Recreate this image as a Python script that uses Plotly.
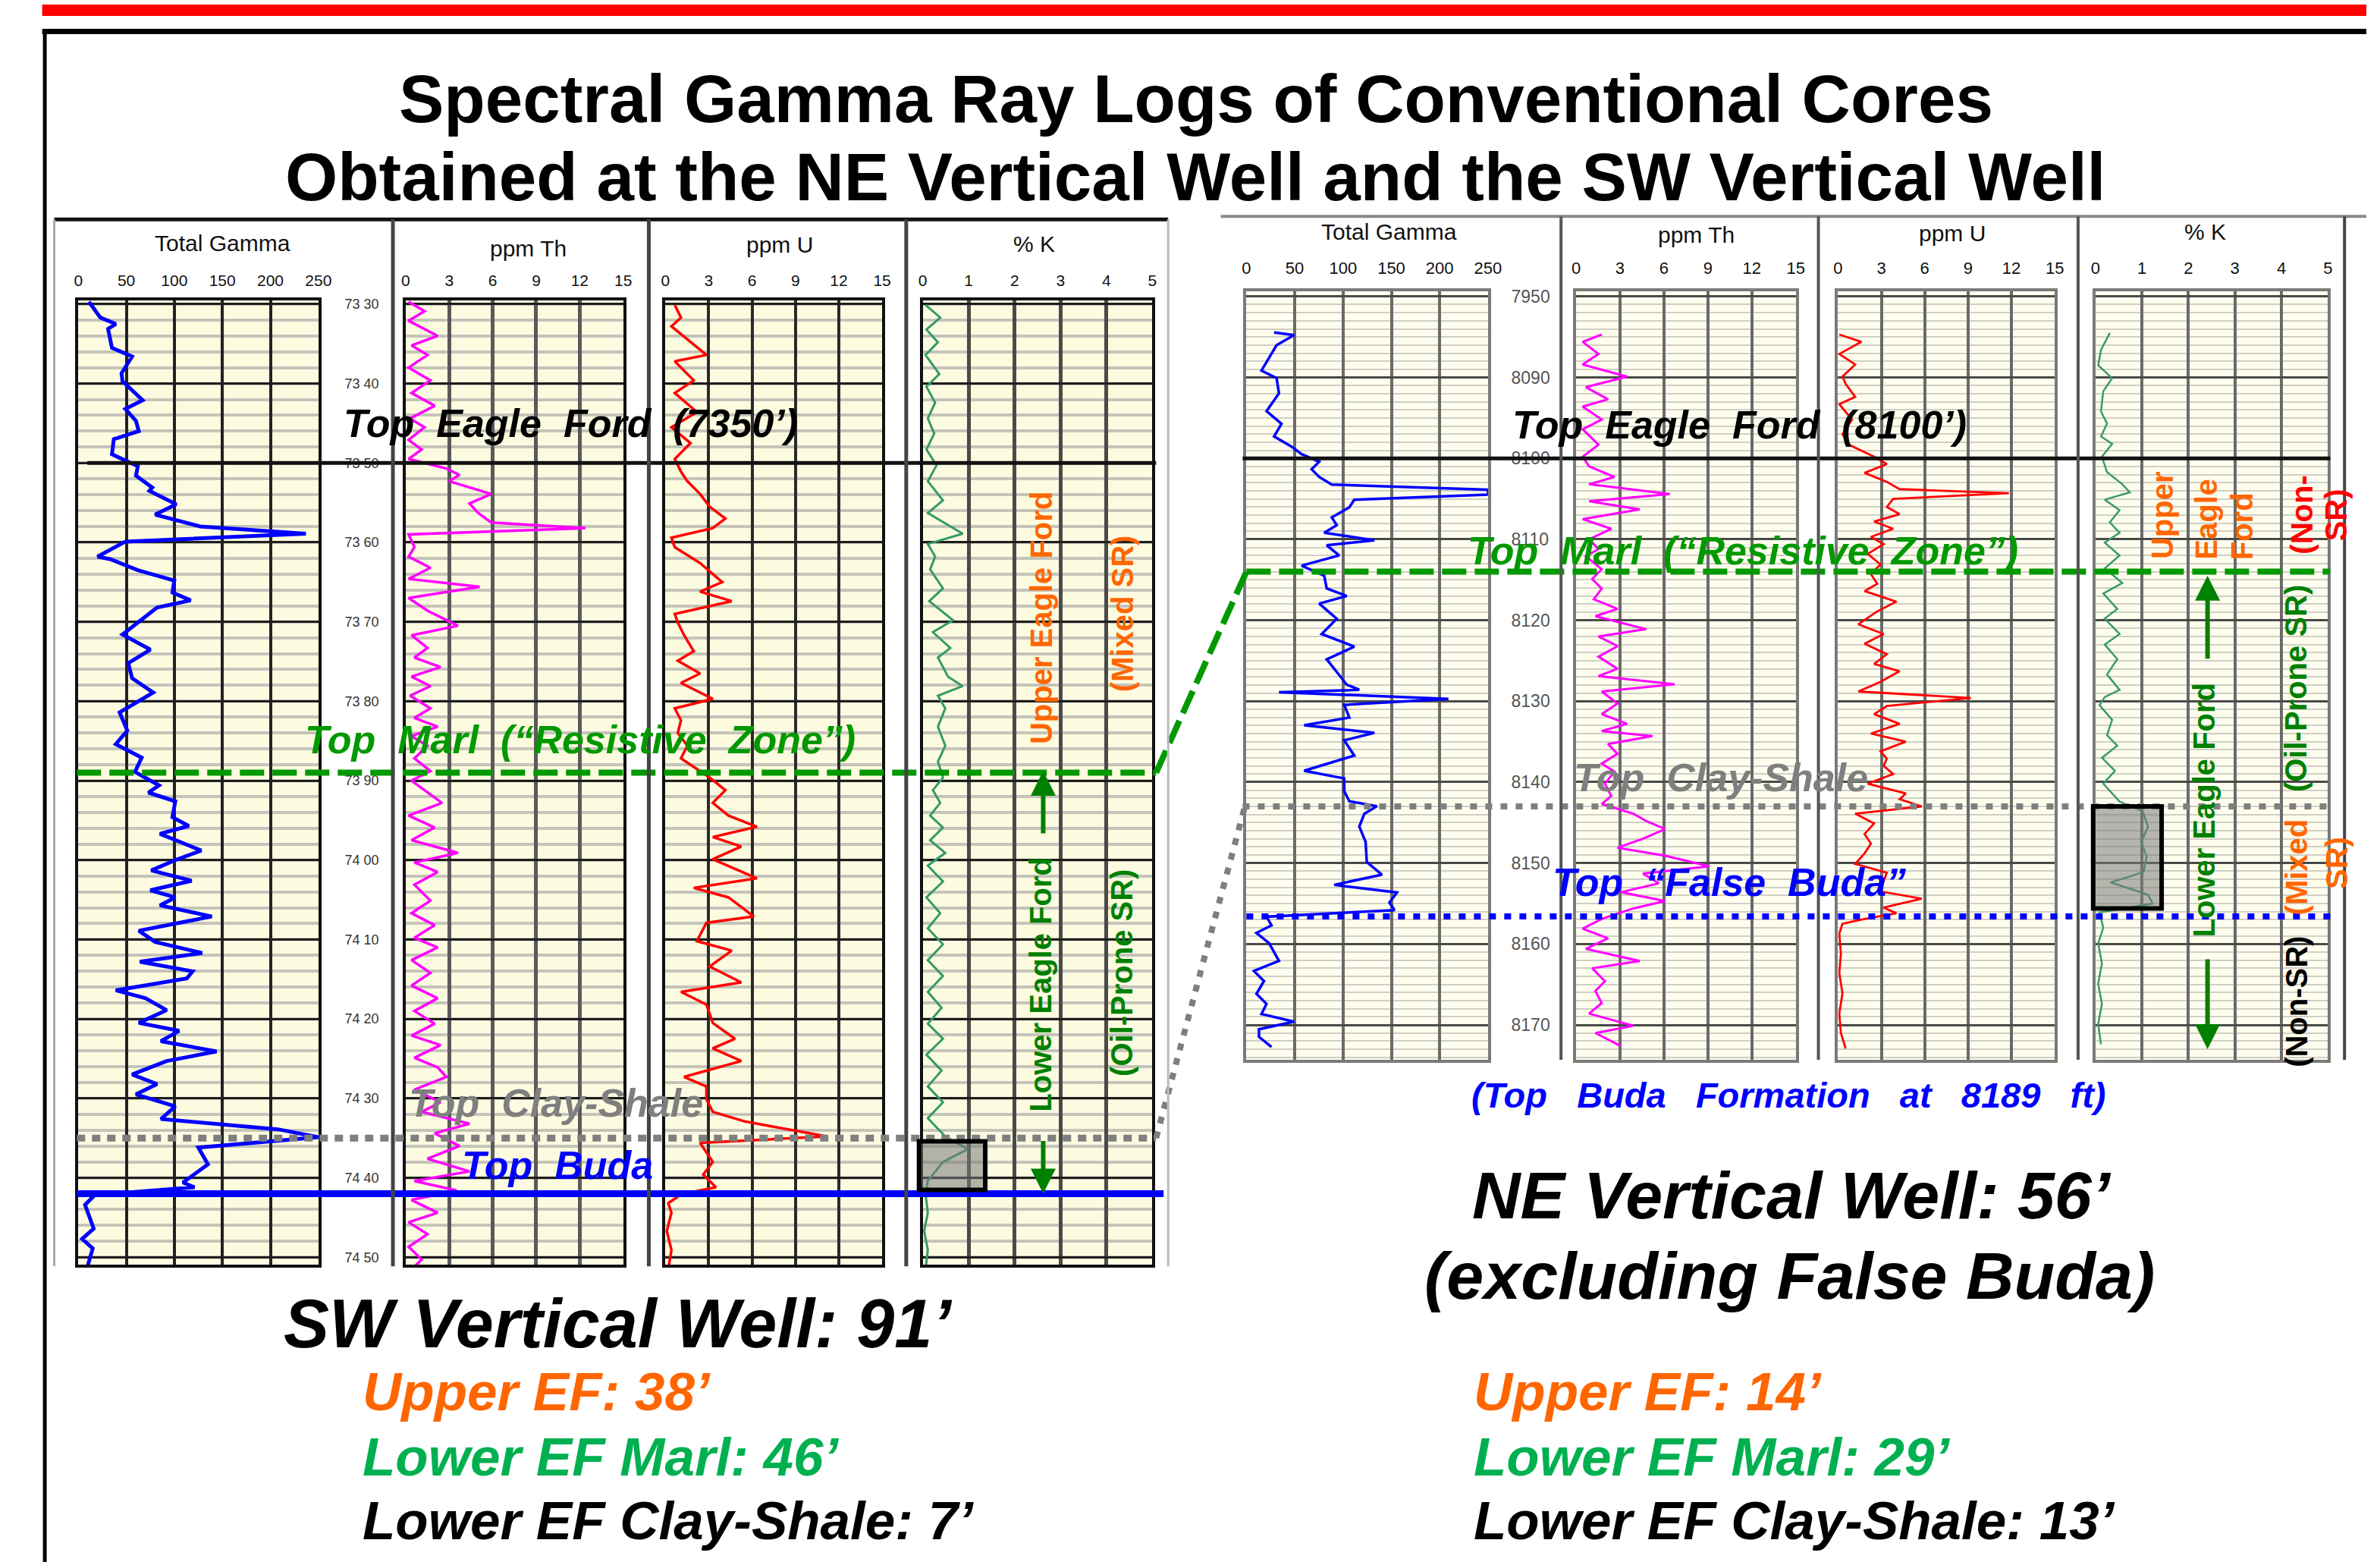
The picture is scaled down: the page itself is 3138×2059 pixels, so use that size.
import plotly.graph_objects as go

W, H = 3138, 2059
FONT = "Liberation Sans, Arial, Helvetica, sans-serif"
NB = "\u00a0"

# ---------------------------------------------------------------- data
TG_TICKS = [0, 50, 100, 150, 200, 250]
PPM_TICKS = [0, 3, 6, 9, 12, 15]
K_TICKS = [0, 1, 2, 3, 4, 5]

SW_DEPTH_TICKS = [7330, 7340, 7350, 7360, 7370, 7380, 7390, 7400, 7410, 7420, 7430, 7440, 7450]
SW_DEPTH_LABELS = ["73 30", "73 40", "73 50", "73 60", "73 70", "73 80", "73 90",
                   "74 00", "74 10", "74 20", "74 30", "74 40", "74 50"]
NE_DEPTH_TICKS = [8080, 8090, 8100, 8110, 8120, 8130, 8140, 8150, 8160, 8170]
NE_DEPTH_LABELS = ["7950", "8090", "8100", "8110", "8120", "8130", "8140", "8150", "8160", "8170"]

# formation tops (ft): Eagle Ford, Marl, Clay-Shale, Buda / False Buda
SW_TOPS = [7350, 7389, 7435, 7442]
NE_TOPS = [8100, 8114, 8143, 8156.6]

SW_TG_DEPTH = [7329.7, 7331.7, 7332.5, 7333.1, 7335.5, 7336.6, 7338.7, 7339.7, 7342.1, 7343.2,
               7344.7, 7346.0, 7347.0, 7348.9, 7349.7, 7350.4, 7351.6, 7353.1, 7353.5, 7355.2,
               7356.5, 7358.0, 7358.9, 7359.9, 7361.8, 7362.1, 7363.5, 7364.8, 7366.3, 7367.3,
               7368.2, 7369.9, 7371.6, 7373.5, 7375.2, 7377.1, 7378.9, 7381.4, 7383.7, 7385.4,
               7387.1, 7388.9, 7390.6, 7391.5, 7392.6, 7394.6, 7395.7, 7396.7, 7398.8, 7400.0,
               7401.3, 7402.6, 7403.8, 7404.7, 7405.7, 7407.1, 7408.9, 7410.3, 7411.7, 7412.8,
               7414.0, 7414.9, 7416.4, 7417.4, 7418.9, 7420.5, 7421.5, 7422.8, 7424.1, 7425.3,
               7427.0, 7428.2, 7429.5, 7431.0, 7432.6, 7433.9, 7434.9, 7436.2, 7438.3, 7440.6,
               7441.2, 7442.2, 7443.4, 7446.4, 7447.7, 7448.9, 7451.0]
SW_TG = [11, 23, 39, 31, 35, 56, 45, 46, 67, 49,
         60, 63, 37, 35, 49, 62, 60, 77, 74, 102,
         80, 127, 237, 49, 20, 33, 62, 100, 98, 117,
         82, 64, 46, 75, 52, 56, 78, 43, 51, 39,
         66, 59, 84, 73, 101, 98, 115, 85, 128, 101,
         76, 118, 75, 101, 85, 139, 63, 80, 129, 64,
         119, 113, 39, 70, 92, 63, 105, 86, 144, 92,
         56, 82, 60, 101, 86, 208, 250, 125, 135, 109,
         121, 17, 7, 16, 4, 15, 10]

SW_TH_DEPTH = [7329.7, 7330.9, 7332.1, 7334.0, 7335.2, 7336.4, 7338.0, 7339.6, 7341.2, 7342.8,
               7344.4, 7345.5, 7347.1, 7348.3, 7349.5, 7350.7, 7351.5, 7352.3, 7353.9, 7355.1,
               7356.3, 7357.5, 7358.2, 7359.0, 7360.6, 7361.8, 7363.2, 7364.6, 7365.6, 7367.0,
               7368.6, 7370.5, 7371.7, 7373.3, 7374.5, 7375.7, 7376.9, 7378.1, 7379.3, 7380.9,
               7382.1, 7383.2, 7384.4, 7385.6, 7387.2, 7388.8, 7390.0, 7391.2, 7392.8, 7394.4,
               7395.9, 7397.5, 7399.1, 7400.3, 7401.5, 7403.1, 7405.1, 7406.7, 7408.2, 7409.8,
               7411.0, 7412.6, 7414.2, 7415.8, 7417.4, 7419.0, 7420.6, 7422.1, 7423.3, 7424.9,
               7426.1, 7427.3, 7428.9, 7430.5, 7431.7, 7433.2, 7434.4, 7436.0, 7437.6, 7439.2,
               7440.4, 7441.6, 7442.8, 7444.4, 7445.6, 7447.1, 7448.7, 7450.3, 7451.9]
SW_TH = [0.2, 1.3, 0.2, 2.2, 0.4, 1.5, 0.2, 1.7, 0.4, 2.0,
         0.3, 1.3, 0.2, 1.1, 0.2, 2.8, 3.7, 3.0, 5.9, 4.4,
         5.0, 5.9, 12.4, 0.2, 0.6, 0.2, 1.7, 0.2, 5.1, 0.2,
         1.5, 3.6, 0.4, 1.5, 0.6, 2.4, 0.4, 1.7, 0.3, 1.7,
         0.6, 2.2, 0.4, 1.5, 0.6, 1.7, 0.4, 1.3, 2.5, 0.2,
         2.0, 0.4, 3.6, 0.6, 2.2, 0.6, 1.7, 0.4, 2.0, 0.6,
         2.2, 0.4, 1.7, 0.4, 2.2, 0.6, 2.0, 0.4, 2.4, 0.6,
         2.2, 2.8, 0.6, 2.4, 1.1, 4.4, 2.0, 3.7, 1.5, 4.4,
         0.6, 3.5, 0.4, 2.2, 0.2, 1.5, 0.2, 1.1, 0.2]

SW_U_DEPTH = [7330.1, 7331.7, 7332.8, 7334.8, 7336.4, 7337.2, 7339.6, 7341.2, 7343.6, 7345.5,
              7347.5, 7349.5, 7351.1, 7352.3, 7353.9, 7355.5, 7357.0, 7358.2, 7359.4, 7360.6,
              7362.6, 7365.0, 7366.2, 7367.4, 7369.0, 7370.1, 7371.7, 7373.7, 7374.9, 7376.5,
              7377.7, 7379.7, 7380.9, 7382.4, 7384.0, 7385.6, 7387.2, 7388.8, 7389.6, 7391.2,
              7392.8, 7394.4, 7395.8, 7397.1, 7398.3, 7399.9, 7402.3, 7403.5, 7404.7, 7407.1,
              7407.9, 7410.2, 7411.4, 7413.4, 7415.4, 7416.6, 7418.2, 7420.5, 7422.5, 7423.7,
              7425.3, 7427.3, 7428.5, 7430.1, 7431.7, 7432.9, 7434.0, 7434.8, 7435.6, 7438.0,
              7439.6, 7441.2, 7442.1, 7443.2, 7444.4, 7446.7, 7449.1, 7451.5]
SW_U = [0.65, 1.08, 0.42, 1.74, 2.84, 0.65, 1.96, 0.65, 2.18, 0.42,
        1.74, 0.65, 1.08, 1.52, 2.40, 3.06, 4.15, 3.28, 0.42, 0.65,
        2.40, 3.93, 2.40, 4.59, 0.65, 0.86, 1.30, 1.96, 0.86, 2.40,
        1.08, 3.28, 0.65, 1.08, 0.86, 1.52, 1.08, 2.40, 3.06, 4.15,
        3.28, 4.37, 6.34, 3.28, 5.25, 3.28, 6.34, 1.96, 4.37, 6.12,
        2.84, 2.18, 4.59, 3.06, 5.25, 1.08, 2.84, 3.28, 4.81, 3.28,
        5.25, 1.30, 2.84, 2.84, 3.28, 5.47, 8.75, 11.17, 2.40, 3.28,
        2.62, 3.50, 1.08, 0.20, 0.42, 0.10, 0.42, 0.20]

SW_K_DEPTH = [7330.1, 7331.7, 7333.2, 7334.8, 7336.4, 7338.8, 7340.4, 7342.4, 7344.4, 7346.3,
              7348.3, 7350.3, 7352.3, 7354.7, 7356.3, 7358.9, 7360.2, 7361.8, 7363.4, 7365.8,
              7367.4, 7369.8, 7371.3, 7373.3, 7374.5, 7376.9, 7378.1, 7379.3, 7380.9, 7383.2,
              7385.6, 7387.6, 7389.6, 7391.2, 7392.8, 7394.4, 7395.9, 7397.5, 7399.1, 7400.7,
              7402.7, 7404.7, 7406.7, 7408.6, 7410.6, 7412.6, 7414.6, 7416.6, 7418.6, 7420.6,
              7422.5, 7424.5, 7426.5, 7428.5, 7430.5, 7432.5, 7434.8, 7436.4, 7438.0, 7440.4,
              7442.0, 7444.4, 7446.7, 7449.1, 7451.5]
SW_K = [0.06, 0.38, 0.08, 0.33, 0.06, 0.36, 0.08, 0.27, 0.11, 0.25,
        0.08, 0.30, 0.11, 0.44, 0.11, 0.87, 0.11, 0.27, 0.16, 0.44,
        0.14, 0.66, 0.22, 0.60, 0.33, 0.55, 0.87, 0.33, 0.49, 0.33,
        0.49, 0.33, 0.44, 0.22, 0.38, 0.16, 0.44, 0.16, 0.49, 0.11,
        0.44, 0.08, 0.38, 0.11, 0.44, 0.11, 0.44, 0.11, 0.41, 0.11,
        0.44, 0.08, 0.41, 0.11, 0.44, 0.11, 0.49, 0.98, 0.44, 0.11,
        0.06, 0.11, 0.03, 0.11, 0.06]

NE_TG_DEPTH = [8084.45, 8084.77, 8086.02, 8089.15, 8090.09, 8091.96, 8094.16, 8095.72, 8097.29, 8098.54,
               8099.48, 8100.42, 8101.35, 8102.29, 8103.23, 8103.86, 8104.48, 8105.11, 8106.05, 8107.30,
               8108.24, 8109.18, 8110.12, 8110.74, 8111.99, 8113.25, 8114.50, 8116.07, 8117.00, 8117.94,
               8119.82, 8121.70, 8123.26, 8124.83, 8126.39, 8127.96, 8128.59, 8128.90, 8129.71, 8130.46,
               8132.03, 8132.97, 8133.91, 8134.84, 8136.72, 8138.60, 8139.54, 8141.11, 8142.36, 8142.98,
               8143.92, 8145.49, 8147.37, 8149.87, 8151.44, 8152.69, 8153.63, 8154.88, 8155.82, 8156.63,
               8157.69, 8158.63, 8159.89, 8162.08, 8163.33, 8164.58, 8166.15, 8167.40, 8168.65, 8169.59,
               8170.53, 8171.47, 8172.72]
NE_TG = [28.6, 49.3, 31.2, 15.6, 31.2, 33.7, 20.8, 36.3, 28.6, 46.7,
         57.1, 75.3, 67.5, 75.3, 88.3, 250, 250, 111.6, 106.5, 88.3,
         93.5, 80.5, 132.4, 83.1, 96.0, 57.1, 80.5, 83.1, 103.8, 75.3,
         93.5, 77.9, 111.6, 83.1, 93.5, 103.8, 116.8, 33.7, 209, 101.2,
         106.5, 59.7, 132.4, 101.2, 111.6, 59.7, 101.2, 101.2, 106.5, 135.0,
         122.0, 116.8, 123.3, 124.6, 140.2, 90.9, 155.8, 148.0, 153.2, 20.8,
         26.0, 10.4, 23.4, 33.7, 7.8, 18.2, 10.4, 20.8, 15.6, 49.3,
         13.0, 13.0, 26.0]

NE_TH_DEPTH = [8084.7, 8085.6, 8087.1, 8088.4, 8089.9, 8091.2, 8092.7, 8093.6, 8095.2, 8096.4,
               8098.3, 8099.8, 8101.0, 8102.3, 8103.2, 8104.4, 8105.3, 8106.3, 8107.5, 8108.7,
               8110.0, 8111.2, 8112.1, 8113.7, 8114.9, 8116.1, 8117.4, 8118.6, 8119.5, 8121.1,
               8122.0, 8123.2, 8124.5, 8126.0, 8126.9, 8127.9, 8128.8, 8130.3, 8131.6, 8132.8,
               8133.7, 8134.3, 8135.3, 8136.5, 8137.7, 8138.7, 8140.2, 8141.7, 8142.7, 8143.9,
               8144.8, 8145.8, 8147.0, 8148.1, 8149.1, 8150.4, 8151.3, 8152.5, 8153.6, 8154.7,
               8155.6, 8156.9, 8158.1, 8159.3, 8160.6, 8162.1, 8163.0, 8164.6, 8165.8, 8167.3,
               8168.6, 8170.1, 8171.0, 8172.6]
NE_TH = [1.75, 0.45, 1.53, 0.45, 3.48, 0.67, 2.18, 0.45, 1.75, 0.45,
         1.53, 0.45, 0.89, 2.62, 0.89, 6.40, 0.89, 4.35, 0.45, 2.40,
         0.89, 1.53, 0.67, 1.75, 1.10, 1.75, 1.21, 2.83, 1.32, 4.78,
         1.53, 2.83, 1.53, 2.83, 1.53, 6.72, 1.75, 2.83, 1.75, 3.48,
         1.75, 5.21, 2.18, 2.83, 1.75, 2.62, 1.97, 2.40, 1.75, 3.91,
         4.78, 6.08, 4.56, 2.83, 6.08, 9.10, 4.56, 5.64, 3.05, 6.08,
         3.91, 1.75, 0.45, 2.18, 0.67, 4.35, 1.10, 1.97, 1.32, 1.75,
         0.89, 3.91, 1.32, 3.05]

NE_U_DEPTH = [8084.7, 8085.6, 8087.1, 8088.4, 8089.9, 8090.8, 8092.4, 8093.3, 8095.2, 8097.0,
              8098.3, 8099.8, 8100.7, 8101.8, 8102.9, 8103.8, 8104.3, 8105.0, 8106.0, 8106.9,
              8107.8, 8108.7, 8109.7, 8110.6, 8111.8, 8113.1, 8114.3, 8115.5, 8116.4, 8117.7,
              8118.9, 8120.5, 8121.7, 8122.9, 8124.2, 8125.4, 8126.3, 8127.6, 8128.8, 8129.6,
              8130.6, 8131.6, 8132.8, 8134.0, 8135.0, 8136.2, 8137.1, 8138.0, 8139.0, 8140.2,
              8141.4, 8142.1, 8143.0, 8143.9, 8145.1, 8146.4, 8147.6, 8148.8, 8150.1, 8151.2,
              8152.2, 8153.5, 8154.4, 8155.5, 8156.2, 8156.9, 8157.5, 8158.7, 8161.2, 8163.6,
              8166.1, 8168.6, 8171.0, 8172.9]
NE_U = [0.09, 1.62, 0.09, 1.19, 0.31, 0.53, 1.19, 0.09, 0.97, 0.31,
        0.75, 2.50, 3.38, 1.84, 3.38, 4.26, 11.82, 3.82, 3.38, 4.26,
        2.50, 3.82, 2.28, 3.16, 2.06, 2.94, 2.28, 2.72, 1.84, 4.04,
        2.72, 1.41, 3.16, 1.84, 3.38, 2.50, 4.26, 2.94, 1.41, 9.19,
        3.38, 2.50, 4.26, 2.28, 4.69, 2.94, 3.38, 3.16, 3.82, 2.06,
        4.69, 4.26, 5.79, 1.19, 2.50, 1.84, 2.28, 1.84, 1.19, 3.38,
        3.16, 2.94, 5.79, 3.16, 4.04, 1.84, 0.31, 0.09, 0.20, 0.09,
        0.31, 0.09, 0.20, 0.53]

NE_K_DEPTH = [8084.5, 8086.6, 8088.5, 8090.1, 8091.7, 8094.2, 8095.7, 8097.3, 8098.2, 8099.8,
              8101.7, 8103.2, 8104.2, 8105.1, 8106.4, 8107.9, 8109.2, 8110.4, 8112.0, 8113.6,
              8115.4, 8116.7, 8118.6, 8119.8, 8121.7, 8123.0, 8124.8, 8126.7, 8128.6, 8129.5,
              8130.5, 8132.3, 8134.2, 8135.5, 8137.0, 8138.6, 8140.2, 8141.4, 8142.4, 8143.6,
              8145.5, 8147.4, 8149.2, 8151.1, 8152.4, 8153.9, 8155.0, 8156.1, 8158.0, 8159.9,
              8162.4, 8164.9, 8167.4, 8169.9, 8172.4]
NE_K = [0.31, 0.12, 0.06, 0.36, 0.17, 0.12, 0.25, 0.12, 0.36, 0.14,
        0.25, 0.58, 0.74, 0.20, 0.52, 0.31, 0.52, 0.20, 0.52, 0.20,
        0.58, 0.17, 0.47, 0.20, 0.52, 0.20, 0.47, 0.25, 0.52, 0.20,
        0.09, 0.36, 0.25, 0.47, 0.14, 0.42, 0.17, 0.36, 0.52, 1.02,
        1.13, 0.99, 1.10, 1.04, 0.33, 1.13, 1.23, 0.09, 0.17, 0.06,
        0.14, 0.06, 0.14, 0.06, 0.12]

# ---------------------------------------------------------------- geometry helpers
def X(p):
    return p / W


def Y(p):
    return 1 - p / H


SW_Y = (391, 1666)
SW_RANGE = [7450.95, 7329.52]
NE_Y = (379, 1395)
NE_RANGE = [8174.3, 8079.35]


def depth_y(depth, well):
    (yt, yb), rng = (SW_Y, SW_RANGE) if well == "SW" else (NE_Y, NE_RANGE)
    top, bot = rng[1], rng[0]
    return Y(yt + (depth - top) / (bot - top) * (yb - yt))


SW_STYLE = dict(bg="#FCFBE0", major="#1e1e1e", majw=3, minor="#C4C4BA", minw=4, border="#111111", bw=4)
NE_STYLE = dict(bg="#FFFEEE", major="#4a4a4a", majw=2.5, minor="#CFCFC6", minw=2, border="#7a7a7a", bw=4)

tracks = [
    dict(n=1, well="SW", x=(98, 417), rng=[0, 250], ticks=TG_TICKS, d=SW_TG_DEPTH, v=SW_TG,
         color="#0000FF", lw=5, vgrid="#222222", vgw=4, head="Total Gamma", hx=290, hy=315),
    dict(n=2, well="SW", x=(533, 822), rng=[0, 15], ticks=PPM_TICKS, d=SW_TH_DEPTH, v=SW_TH,
         color="#FF00FF", lw=3.5, vgrid="#5a5a5a", vgw=5, head="ppm Th", hx=696, hy=322),
    dict(n=3, well="SW", x=(878, 1166), rng=[0, 15], ticks=PPM_TICKS, d=SW_U_DEPTH, v=SW_U,
         color="#FF0000", lw=3.5, vgrid="#2a2a2a", vgw=4, head="ppm U", hx=1030, hy=317),
    dict(n=4, well="SW", x=(1220, 1525), rng=[0, 5], ticks=K_TICKS, d=SW_K_DEPTH, v=SW_K,
         color="#35996A", lw=3, vgrid="#4a4a4a", vgw=5, head="% K", hx=1368, hy=316),
    dict(n=5, well="NE", x=(1650, 1971), rng=[0, 250], ticks=TG_TICKS, d=NE_TG_DEPTH, v=NE_TG,
         color="#0000FF", lw=3.5, vgrid="#6a6a6a", vgw=4, head="Total Gamma", hx=1840, hy=300),
    dict(n=6, well="NE", x=(2088, 2380), rng=[0, 15], ticks=PPM_TICKS, d=NE_TH_DEPTH, v=NE_TH,
         color="#FF00FF", lw=3, vgrid="#6a6a6a", vgw=4, head="ppm Th", hx=2248, hy=304),
    dict(n=7, well="NE", x=(2436, 2724), rng=[0, 15], ticks=PPM_TICKS, d=NE_U_DEPTH, v=NE_U,
         color="#FF0000", lw=2.8, vgrid="#6a6a6a", vgw=4, head="ppm U", hx=2588, hy=302),
    dict(n=8, well="NE", x=(2778, 3087), rng=[0, 5], ticks=K_TICKS, d=NE_K_DEPTH, v=NE_K,
         color="#3A9A6A", lw=2.5, vgrid="#6a6a6a", vgw=4, head="% K", hx=2924, hy=300),
]

fig = go.Figure()
layout = {}
shapes = []
annotations = []

for t in tracks:
    n = t["n"]
    sw = t["well"] == "SW"
    st = SW_STYLE if sw else NE_STYLE
    (yt, yb) = SW_Y if sw else NE_Y
    fig.add_trace(go.Scatter(x=t["v"], y=t["d"], mode="lines",
                             line=dict(color=t["color"], width=t["lw"]),
                             xaxis="x%d" % n, yaxis="y%d" % n,
                             showlegend=False, hoverinfo="skip"))
    layout["xaxis%d" % n] = dict(
        domain=[X(t["x"][0]), X(t["x"][1])], range=t["rng"], anchor="y%d" % n,
        side="top", tickmode="array", tickvals=t["ticks"],
        ticks="outside", ticklen=6 if sw else 10, tickcolor="rgba(0,0,0,0)",
        tickfont=dict(family=FONT, size=21 if sw else 22, color="#111"),
        showgrid=True, gridcolor=t["vgrid"], gridwidth=t["vgw"],
        showline=True, linecolor=st["border"], linewidth=st["bw"], mirror=True,
        zeroline=False, fixedrange=True)
    is_tg = n in (1, 5)
    ya = dict(
        domain=[Y(yb), Y(yt)], range=SW_RANGE if sw else NE_RANGE, anchor="x%d" % n,
        tickmode="array",
        tickvals=SW_DEPTH_TICKS if sw else NE_DEPTH_TICKS,
        ticktext=SW_DEPTH_LABELS if sw else NE_DEPTH_LABELS,
        showticklabels=is_tg, side="right",
        ticks="outside" if is_tg else "", ticklen=27 if sw else 22,
        tickcolor="rgba(0,0,0,0)",
        tickfont=dict(family=FONT, size=18 if sw else 23, color="#333" if sw else "#555"),
        showgrid=True, gridcolor=st["major"], gridwidth=st["majw"],
        minor=dict(tick0=SW_DEPTH_TICKS[0] if sw else NE_DEPTH_TICKS[0],
                   dtick=2 if sw else 1, showgrid=True,
                   gridcolor=st["minor"], gridwidth=st["minw"]),
        showline=True, linecolor=st["border"], linewidth=st["bw"], mirror=True,
        zeroline=False, fixedrange=True)
    layout["yaxis%d" % n] = ya
    # track background
    shapes.append(dict(type="rect", xref="paper", yref="paper",
                       x0=X(t["x"][0]), x1=X(t["x"][1]), y0=Y(yb), y1=Y(yt),
                       fillcolor=st["bg"], line=dict(width=0), layer="below"))
    annotations.append(dict(text=t["head"], x=X(t["hx"]), y=Y(t["hy"]), xref="paper", yref="paper",
                            showarrow=False, xanchor="center", yanchor="middle",
                            font=dict(family=FONT, size=30, color="#111")))


def hline(x0, x1, yref, depth, color, width, dash="solid"):
    shapes.append(dict(type="line", xref="paper", yref=yref, x0=X(x0), x1=X(x1),
                       y0=depth, y1=depth, line=dict(color=color, width=width, dash=dash),
                       layer="above"))


def pline(x0, y0, x1, y1, color, width, dash="solid"):
    shapes.append(dict(type="line", xref="paper", yref="paper", x0=X(x0), x1=X(x1),
                       y0=y0, y1=y1, line=dict(color=color, width=width, dash=dash),
                       layer="above"))


def prect(x0, y0, x1, y1, fill, lc=None, lw=0, layer="above"):
    shapes.append(dict(type="rect", xref="paper", yref="paper", x0=X(x0), x1=X(x1),
                       y0=Y(y1), y1=Y(y0), fillcolor=fill,
                       line=dict(color=lc or fill, width=lw), layer=layer))


GREEN = "#009900"
GRAY = "#7f7f7f"
BLUE = "#0000FF"
ORANGE = "#FF6600"
DKGREEN = "#008000"

# formation top lines - SW
hline(110, 1530, "y1", SW_TOPS[0], "#111111", 5)
hline(96, 1530, "y1", SW_TOPS[1], GREEN, 8, "32px,11px")
hline(96, 1530, "y1", SW_TOPS[2], GRAY, 9, "11px,9px")
hline(96, 1540, "y1", SW_TOPS[3], BLUE, 9)
# formation top lines - NE
hline(1645, 3090, "y5", NE_TOPS[0], "#111111", 5)
hline(1650, 3090, "y5", NE_TOPS[1], GREEN, 8, "32px,11px")
hline(1645, 3090, "y5", NE_TOPS[2], GRAY, 8, "9px,11px")
hline(1650, 3090, "y5", NE_TOPS[3], BLUE, 8, "9px,11px")
# connectors between the two wells
shapes.append(dict(type="line", xref="paper", yref="paper", x0=X(1530), x1=X(1650),
                   y0=depth_y(SW_TOPS[1], "SW"), y1=depth_y(NE_TOPS[1], "NE"),
                   line=dict(color=GREEN, width=8, dash="32px,11px"), layer="above"))
shapes.append(dict(type="line", xref="paper", yref="paper", x0=X(1530), x1=X(1648),
                   y0=depth_y(SW_TOPS[2], "SW"), y1=depth_y(NE_TOPS[2], "NE"),
                   line=dict(color=GRAY, width=8, dash="9px,11px"), layer="above"))

# core boxes (grey)
prect(1215, 1503, 1303, 1567, "rgba(120,120,120,0.55)", "#000", 6)
prect(2775, 1060, 2866, 1195, "rgba(120,120,120,0.55)", "#000", 6)

# outer frame
prect(50, 0, 3138, 15, "#FF0000", layer="above")
prect(50, 32, 3138, 39, "#000000", layer="above")
prect(51, 36, 56, 2059, "#000000", layer="above")

# panel frames
pline(66, Y(284), 1546, Y(284), "#111111", 5)
pline(66, Y(284), 66, Y(1668), "#AAAAAA", 3)
pline(1546, Y(284), 1546, Y(1668), "#BBBBBB", 3)
for sx in (516, 856, 1198):
    pline(sx, Y(284), sx, Y(1668), "#444444", 5)
pline(1616, Y(280), 3138, Y(280), "#8a8a8a", 4)
for sx in (2068, 2410, 2755):
    pline(sx, Y(280), sx, Y(1395), "#555555", 4)
pline(3109, Y(280), 3109, Y(1395), "#444444", 4)


def ann(text, x, y, size, color="#000", angle=0, xanchor="center", yanchor="middle", family=FONT):
    annotations.append(dict(text=text, x=X(x), y=Y(y), xref="paper", yref="paper",
                            showarrow=False, xanchor=xanchor, yanchor=yanchor,
                            textangle=angle, font=dict(family=family, size=size, color=color)))


def bi(s):
    return "<b><i>" + s + "</i></b>"


S2 = " " + NB
S3 = " " + NB + NB

# title
ann("<b>Spectral Gamma Ray Logs of Conventional Cores</b>", 1583, 124, 89)
ann("<b>Obtained at the NE Vertical Well and the SW Vertical Well</b>", 1582, 228, 89)

# SW line labels
ann(bi("Top" + S2 + "Eagle" + S2 + "Ford" + S2 + "(7350’)"), 752, 554, 52, "#000")
ann(bi("Top" + S2 + "Marl" + S2 + "(“Resistive" + S2 + "Zone”)"), 765, 972, 52, GREEN)
ann(bi("Top" + S2 + "Clay-Shale"), 733, 1452, 52, GRAY)
ann(bi("Top" + S2 + "Buda"), 735, 1534, 52, BLUE)
# NE line labels
ann(bi("Top" + S2 + "Eagle" + S2 + "Ford" + S2 + "(8100’)"), 2305, 556, 52, "#000")
ann(bi("Top" + S2 + "Marl" + S2 + "(“Resistive" + S2 + "Zone”)"), 2310, 722, 52, GREEN)
ann(bi("Top" + S2 + "Clay-Shale"), 2280, 1022, 52, GRAY)
ann(bi("Top" + S2 + "“False" + S2 + "Buda”"), 2292, 1160, 52, BLUE)
ann(bi("(Top" + S3 + "Buda" + S3 + "Formation" + S3 + "at" + S3 + "8189" + S3 + "ft)"),
    2370, 1442, 47, BLUE)

# vertical labels - SW K track
VS = 40
ann("<b>Upper Eagle Ford</b>", 1377, 811, VS, ORANGE, -90)
ann("<b>(Mixed SR)</b>", 1485, 805, VS, ORANGE, -90)
ann("<b>Lower Eagle Ford</b>", 1377, 1295, VS, DKGREEN, -90)
ann("<b>(Oil-Prone SR)</b>", 1485, 1280, VS, DKGREEN, -90)
# vertical labels - NE K track
ann("<b>Upper</b>", 2867, 675, VS, ORANGE, -90)
ann("<b>Eagle</b>", 2925, 680, VS, ORANGE, -90)
ann("<b>Ford</b>", 2973, 690, VS, ORANGE, -90)
ann("<b>(Non-</b>", 3052, 675, VS, "#FF0000", -90)
ann("<b>SR)</b>", 3098, 675, VS, "#FF0000", -90)
ann("<b>Lower Eagle Ford</b>", 2922, 1065, VS, DKGREEN, -90)
ann("<b>(Oil-Prone SR)</b>", 3045, 904, VS, DKGREEN, -90)
ann("<b>(Mixed</b>", 3045, 1140, VS, ORANGE, -90)
ann("<b>SR)</b>", 3098, 1135, VS, ORANGE, -90)
ann("<b>(Non-SR)</b>", 3045, 1318, VS, "#000", -90)


def arrow(x, y_head, y_tail):
    annotations.append(dict(text="", x=X(x), y=Y(y_head), xref="paper", yref="paper",
                            ax=0, ay=y_tail - y_head, showarrow=True, arrowhead=2,
                            arrowsize=1.1, arrowwidth=6, arrowcolor=DKGREEN))


arrow(1380, 1013, 1097)
arrow(1380, 1572, 1501)
arrow(2927, 755, 866)
arrow(2927, 1381, 1261)

# summary texts
ann(bi("SW Vertical Well: 91’"), 815, 1744, 90)
ann(bi("NE Vertical Well: 56’"), 2375, 1574, 88)
ann(bi("(excluding False Buda)"), 2372, 1680, 88)

SUM = 71
ann(bi("Upper EF: 38’"), 474, 1834, SUM, ORANGE, xanchor="left")
ann(bi("Lower EF Marl: 46’"), 474, 1920, SUM, "#00B050", xanchor="left")
ann(bi("Lower EF Clay-Shale: 7’"), 474, 2004, SUM, "#000", xanchor="left")
ann(bi("Upper EF: 14’"), 1950, 1834, SUM, ORANGE, xanchor="left")
ann(bi("Lower EF Marl: 29’"), 1950, 1920, SUM, "#00B050", xanchor="left")
ann(bi("Lower EF Clay-Shale: 13’"), 1950, 2004, SUM, "#000", xanchor="left")

layout.update(dict(width=W, height=H, autosize=False,
                   margin=dict(l=0, r=0, t=0, b=0, pad=0),
                   paper_bgcolor="white", plot_bgcolor="rgba(0,0,0,0)",
                   showlegend=False, shapes=shapes, annotations=annotations,
                   font=dict(family=FONT)))
fig.update_layout(**layout)

fig.write_html("out.html", config={"displayModeBar": False},
               post_script="document.body.style.margin='0';document.body.style.overflow='hidden';")
